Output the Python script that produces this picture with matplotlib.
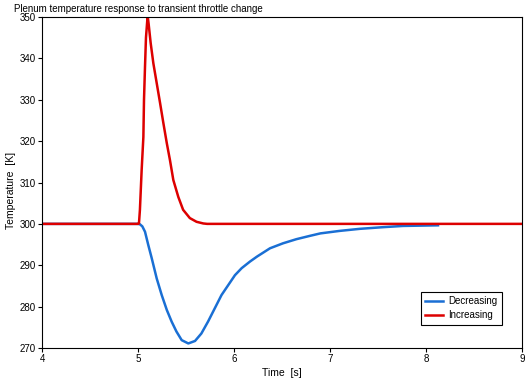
#!/usr/bin/env python3

import numpy as np
from matplotlib import pyplot as plt

# Decreasing throttle: temperature dip
t_dec = [4.0, 5.0, 5.02, 5.045, 5.073, 5.107, 5.143, 5.195, 5.247, 5.30, 5.35, 5.40,
         5.455, 5.524, 5.594, 5.66, 5.73, 5.80, 5.87, 5.94, 6.01, 6.08, 6.167, 6.24,
         6.375, 6.51, 6.65, 6.79, 6.9, 7.10, 7.31, 7.55, 7.76, 8.125]
T_dec = [300.0, 300.0, 299.9, 299.4, 298.1, 294.9, 291.7, 286.8, 282.8, 279.2, 276.4, 274.0,
         271.9, 271.1, 271.7, 273.5, 276.4, 279.6, 282.8, 285.2, 287.6, 289.3, 290.9, 292.1,
         294.1, 295.3, 296.3, 297.1, 297.7, 298.3, 298.8, 299.2, 299.5, 299.65]

# Increasing throttle: temperature spike
t_inc = [4.0, 5.0, 5.01, 5.02, 5.038, 5.056, 5.0625, 5.073, 5.083, 5.097, 5.102, 5.11,
         5.132, 5.16, 5.195, 5.23, 5.264, 5.30, 5.333, 5.368, 5.42, 5.47, 5.54, 5.61,
         5.68, 5.72, 9.0]
T_inc = [300.0, 300.0, 300.1, 303.4, 313.0, 321.0, 330.0, 338.0, 345.0, 349.3, 350.0, 348.5,
         343.7, 338.8, 334.0, 329.2, 324.4, 319.5, 315.4, 310.6, 306.5, 303.4, 301.4, 300.5,
         300.1, 300.0, 300.0]

plt.rcParams['font.family'] = ['Liberation Sans', 'DejaVu Sans']

fig = plt.figure(figsize=(5.27, 3.9), dpi=100)
ax = fig.add_axes([0.0797, 0.1077, 0.9108, 0.8487])

ax.plot(t_dec, T_dec, color='#1a6fd4', lw=1.8, label='Decreasing')
ax.plot(t_inc, T_inc, color='#dd0000', lw=1.8, label='Increasing')

ax.set_xlim(4, 9)
ax.set_ylim(270, 350)
ax.set_xticks(np.arange(4, 10, 1))
ax.set_yticks(np.arange(270, 360, 10))
ax.tick_params(axis='both', labelsize=7, length=3, width=0.8, pad=1.5)
for s in ax.spines.values():
	s.set_linewidth(0.8)

fig.text(282/527, 1 - 373/390, 'Time  [s]', fontsize=7.5, ha='center', va='center')
fig.text(11/527, 1 - 190/390, 'Temperature  [K]', fontsize=7.5, ha='center', va='center',
	rotation=90)
fig.text(14/527, 1 - 12/390, 'Plenum temperature response to transient throttle change',
	fontsize=7, ha='left', va='baseline')

leg = ax.legend(loc='lower right', bbox_to_anchor=(0.958, 0.07), borderaxespad=0,
	fontsize=7, fancybox=False, framealpha=1, edgecolor='black', handlelength=1.8,
	handletextpad=0.6, borderpad=0.45, labelspacing=0.45)
leg.get_frame().set_linewidth(0.8)

fig.savefig('out.png', dpi=100)
